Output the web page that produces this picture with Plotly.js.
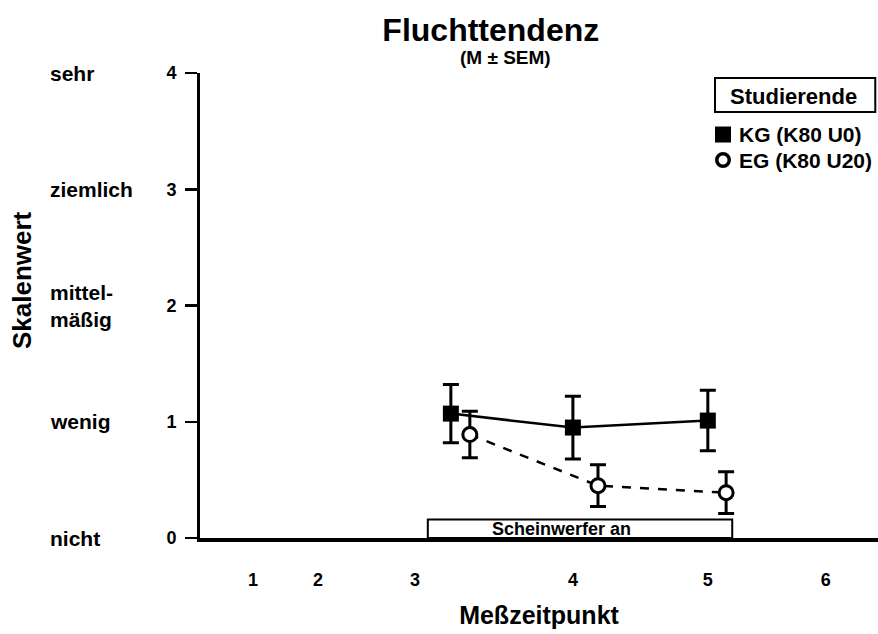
<!DOCTYPE html>
<html><head><meta charset="utf-8">
<script src="https://cdn.plot.ly/plotly-3.0.1.min.js"></script>
<style>body{margin:0;background:#fff}#chart{width:878px;height:634px}</style>
</head><body><div id="chart"></div>
<script>
// Timeline units (0..100 along the x axis)
const tickPositions = [7.8, 17.4, 31.7, 55.0, 74.9, 92.3];
const tickLabels = ['1', '2', '3', '4', '5', '6'];

const kgName = 'KG (K80 U0)';
const kgX = [37.0, 55.0, 74.9];
const kgY = [1.07, 0.95, 1.01];
const kgErr = [0.25, 0.27, 0.26];

const egName = 'EG (K80 U20)';
const egX = [39.8, 58.7, 77.6];
const egY = [0.89, 0.45, 0.39];
const egErr = [0.20, 0.18, 0.18];

const lightOn = [33.6, 78.5];
const lightLabel = 'Scheinwerfer an';

const groupLabel = 'Studierende';

const scaleValues = [4, 3, 2, 1, 0];
const scaleLabels = ['sehr', 'ziemlich', 'mittel-<br>mäßig', 'wenig', 'nicht'];

const FONT = 'Liberation Sans, Arial, Helvetica, sans-serif';
const bold = (size) => ({family: FONT, size: size, color: '#000', weight: 'bold'});

const traces = [
  {
    x: kgX, y: kgY, type: 'scatter', mode: 'lines+markers', name: kgName, showlegend: false,
    line: {color: '#000', width: 2.5},
    marker: {symbol: 'square', size: 16, color: '#000'},
    error_y: {type: 'data', array: kgErr, visible: true, color: '#000', thickness: 3, width: 8}
  },
  {
    x: egX, y: egY, type: 'scatter', mode: 'lines+markers', name: egName, showlegend: false,
    line: {color: '#000', width: 2.5, dash: 'dash'},
    marker: {symbol: 'circle', size: 14, color: '#fff', line: {color: '#000', width: 3}},
    error_y: {type: 'data', array: egErr, visible: true, color: '#000', thickness: 3, width: 8}
  }
];

const annotations = scaleValues.map((v, i) => ({
  xref: 'paper', yref: 'y', x: -0.2242, y: v, xanchor: 'left', yanchor: 'middle',
  text: scaleLabels[i], showarrow: false, align: 'left', font: bold(21)
}));
annotations.push(
  {xref: 'paper', yref: 'paper', x: 0.450, y: 1.0344, text: '(M ± SEM)', showarrow: false,
   xanchor: 'center', yanchor: 'middle', font: bold(19)},
  {xref: 'paper', yref: 'paper', x: -0.2625, y: 0.5548, text: 'Skalenwert', textangle: -90,
   showarrow: false, xanchor: 'center', yanchor: 'middle', font: bold(26)},
  {xref: 'paper', yref: 'paper', x: 0.876, y: 0.9505, text: groupLabel, showarrow: false,
   xanchor: 'center', yanchor: 'middle', font: bold(22)},
  {xref: 'paper', yref: 'paper', x: 0.792, y: 0.8677, text: kgName, showarrow: false,
   xanchor: 'left', yanchor: 'middle', font: bold(21)},
  {xref: 'paper', yref: 'paper', x: 0.792, y: 0.8129, text: egName, showarrow: false,
   xanchor: 'left', yanchor: 'middle', font: bold(21)},
  {xref: 'x', yref: 'y', x: lightOn[0] + 0.44 * (lightOn[1] - lightOn[0]), y: 0.075, text: lightLabel,
   showarrow: false, xanchor: 'center', yanchor: 'middle', font: bold(18)}
);

const layout = {
  width: 878, height: 634,
  margin: {l: 200, r: 0, t: 73, b: 96},
  paper_bgcolor: '#fff', plot_bgcolor: '#fff',
  font: bold(18),
  showlegend: false,
  title: {text: 'Fluchttendenz', font: bold(32), xref: 'container', yref: 'container',
          x: 0.559, y: 0.953, xanchor: 'center', yanchor: 'middle'},
  xaxis: {
    range: [0, 100], showgrid: false, zeroline: false,
    showline: true, linecolor: '#000', linewidth: 3.5,
    tickmode: 'array', tickvals: tickPositions, ticktext: tickLabels,
    ticks: 'outside', ticklen: 23, tickcolor: 'rgba(0,0,0,0)',
    tickfont: bold(18),
    title: {text: 'Meßzeitpunkt', font: bold(25), standoff: 18}
  },
  yaxis: {
    range: [0, 4], showgrid: false, zeroline: false,
    showline: true, linecolor: '#000', linewidth: 3,
    tickmode: 'array', tickvals: [0, 1, 2, 3, 4],
    ticks: 'outside', ticklen: 12, tickwidth: 2.5, tickcolor: '#000',
    ticklabelstandoff: 5,
    tickfont: bold(18)
  },
  shapes: [
    // group label box
    {type: 'rect', xref: 'paper', yref: 'paper', x0: 0.7596, x1: 0.996, y0: 0.916, y1: 0.989,
     line: {color: '#000', width: 2}, fillcolor: '#fff', layer: 'below'},
    // legend glyphs
    {type: 'rect', xref: 'paper', yref: 'paper', x0: 0.7596, x1: 0.7832, y0: 0.8505, y1: 0.8849,
     line: {width: 0}, fillcolor: '#000'},
    {type: 'circle', xref: 'paper', yref: 'paper', x0: 0.7622, x1: 0.7806, y0: 0.7995, y1: 0.8263,
     line: {color: '#000', width: 3.5}, fillcolor: '#fff'},
    // light-on period
    {type: 'rect', xref: 'x', yref: 'y', x0: lightOn[0], x1: lightOn[1], y0: 0, y1: 0.16,
     line: {color: '#000', width: 2}, fillcolor: 'rgba(0,0,0,0)'}
  ],
  annotations: annotations
};

Plotly.newPlot('chart', traces, layout, {displayModeBar: false, staticPlot: true});
</script>
</body></html>
